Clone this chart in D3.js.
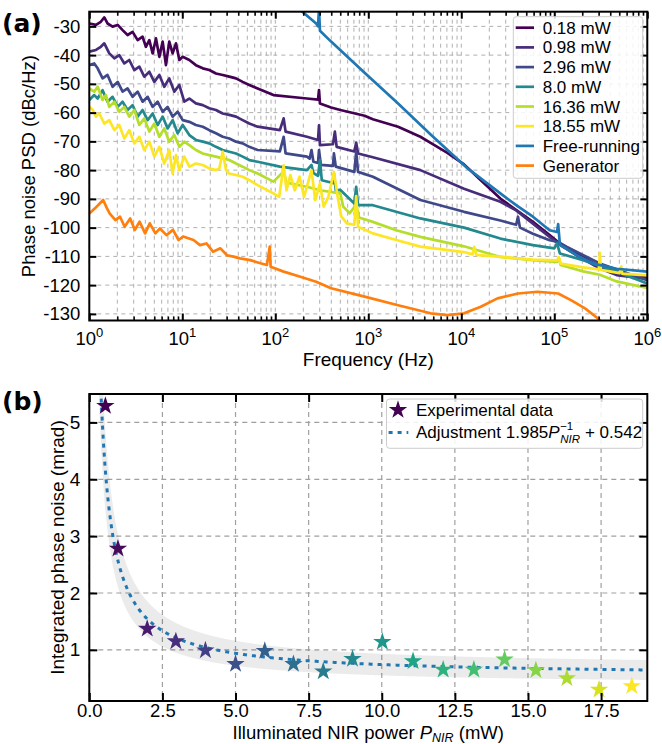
<!DOCTYPE html>
<html>
<head>
<meta charset="utf-8">
<style>
  body { margin: 0; background: #ffffff; }
  svg text { font-family: "Liberation Sans", Arial, sans-serif; fill: #000; }
  .panel-tag { font-family: "DejaVu Sans", sans-serif; font-weight: bold; }
</style>
</head>
<body>
<svg id="fig" width="662" height="744"></svg>
<script src="https://d3js.org/d3.v7.min.js"></script>
<script>
// ---------- panel (a): phase noise PSD, [frequency Hz, dBc/Hz] ----------
const psd018 = [[1.0,-29.0],[1.18,-29.5],[1.33,-28.4],[1.45,-26.9],[1.57,-29.0],[1.78,-30.1],[2.02,-29.5],[2.28,-31.3],[2.58,-33.0],[2.92,-31.9],[3.31,-34.8],[3.74,-33.6],[4.06,-37.1],[4.42,-34.8],[4.80,-39.4],[5.21,-34.2],[5.66,-40.6],[6.15,-35.3],[6.67,-43.5],[7.24,-35.3],[7.87,-39.4],[8.55,-35.9],[9.29,-41.7],[10.1,-40.6],[11.9,-41.7],[14.0,-43.5],[16.6,-44.6],[19.5,-45.2],[23.0,-46.4],[27.2,-46.9],[32.0,-47.5],[37.8,-48.1],[44.6,-49.3],[52.5,-50.4],[64.6,-51.6],[95.5,-53.9],[219,-55.1],[288,-55.5],[295,-52.2],[302,-56.8],[398,-58.2],[501,-59.1],[912,-61.1],[1120,-62.3],[2090,-64.9],[3630,-68.4],[4680,-70.5],[7080,-74.0],[10700,-78.0],[15800,-83.2],[26300,-89.9],[58900,-98.0],[89100,-102.6],[115000,-105.5],[174000,-109.0],[309000,-113.7],[468000,-116.0],[1e6,-117.3]];
const psd098 = [[1.0,-38.8],[1.18,-38.2],[1.33,-37.1],[1.45,-35.9],[1.64,-39.4],[1.86,-41.1],[2.10,-40.0],[2.38,-42.9],[2.69,-41.7],[3.05,-45.2],[3.45,-44.0],[3.90,-47.5],[4.42,-45.8],[5.00,-49.3],[5.66,-46.9],[6.40,-51.0],[7.24,-48.1],[8.20,-52.7],[9.29,-50.4],[10.5,-56.2],[11.9,-55.1],[14.0,-56.8],[16.6,-57.4],[19.5,-58.5],[23.0,-59.1],[27.2,-60.3],[32.0,-60.8],[37.8,-61.4],[44.6,-62.6],[52.5,-63.8],[64.6,-64.9],[112,-66.1],[123,-62.0],[129,-66.6],[219,-68.4],[288,-69.5],[295,-64.4],[302,-71.3],[417,-71.0],[437,-66.6],[457,-71.9],[708,-73.5],[741,-70.5],[776,-74.2],[1120,-75.5],[3630,-80.0],[10700,-86.5],[26300,-91.0],[38900,-94.0],[58900,-98.6],[89100,-103.2],[115000,-106.0],[174000,-109.6],[309000,-114.2],[468000,-116.5],[1e6,-117.8]];
const psd296 = [[1.0,-43.5],[1.13,-42.9],[1.23,-44.6],[1.39,-48.1],[1.57,-46.9],[1.78,-51.0],[2.02,-49.3],[2.28,-52.7],[2.58,-51.6],[2.92,-54.5],[3.31,-52.7],[3.74,-56.2],[4.24,-54.5],[4.80,-58.0],[5.43,-56.2],[6.15,-59.7],[6.95,-58.0],[7.87,-61.4],[8.91,-59.7],[10.1,-62.6],[11.9,-63.2],[14.0,-64.3],[16.6,-64.9],[19.5,-66.1],[23.0,-67.2],[27.2,-68.4],[32.0,-69.0],[37.8,-70.1],[44.6,-70.7],[52.5,-71.9],[64.6,-73.0],[112,-73.5],[123,-68.4],[129,-74.2],[219,-75.3],[234,-76.0],[245,-73.0],[257,-77.1],[288,-77.5],[295,-73.0],[309,-78.2],[417,-78.5],[427,-74.2],[447,-78.8],[708,-80.6],[741,-73.6],[776,-80.6],[1120,-82.3],[3630,-90.4],[10700,-94.5],[26300,-97.5],[38900,-99.0],[40700,-96.2],[42700,-100.0],[58900,-102.1],[89100,-104.4],[110000,-105.0],[135000,-106.6],[309000,-112.5],[1e6,-118.3]];
const psd800 = [[1.0,-55.6],[1.13,-53.9],[1.23,-55.1],[1.39,-52.2],[1.57,-56.2],[1.78,-54.5],[2.02,-58.0],[2.28,-56.2],[2.58,-59.1],[2.92,-57.4],[3.31,-61.4],[3.74,-59.1],[4.24,-62.6],[4.80,-60.3],[5.43,-64.3],[6.15,-61.4],[6.95,-65.5],[7.87,-62.6],[8.91,-67.2],[10.1,-64.3],[11.9,-67.8],[14.0,-69.5],[16.6,-70.1],[19.5,-70.7],[23.0,-71.9],[27.2,-73.0],[32.0,-73.6],[37.8,-74.2],[44.6,-75.3],[52.5,-76.5],[64.6,-77.1],[112,-78.8],[219,-80.0],[245,-78.2],[257,-81.0],[288,-82.0],[302,-76.5],[316,-83.5],[417,-84.5],[427,-81.2],[447,-87.0],[501,-86.9],[708,-91.6],[741,-85.8],[776,-92.2],[1120,-92.2],[3630,-96.8],[10700,-100.0],[26300,-103.8],[58900,-106.1],[100000,-107.2],[107000,-105.5],[115000,-109.0],[204000,-111.3],[468000,-115.3],[1e6,-119.4]];
const psd1636 = [[1.0,-51.6],[1.13,-52.7],[1.23,-51.0],[1.39,-55.6],[1.51,-53.9],[1.64,-58.0],[1.86,-56.2],[2.10,-59.7],[2.38,-58.0],[2.69,-61.4],[3.05,-59.1],[3.45,-64.3],[3.90,-62.0],[4.42,-66.6],[5.00,-63.8],[5.66,-68.4],[6.40,-65.5],[7.24,-70.1],[8.20,-67.8],[9.29,-71.9],[10.5,-70.1],[11.9,-71.3],[14.0,-73.0],[16.6,-74.2],[19.5,-74.8],[23.0,-75.3],[27.2,-75.9],[32.0,-76.5],[37.8,-77.7],[44.6,-78.8],[52.5,-80.0],[64.6,-81.2],[95.5,-84.0],[123,-80.5],[132,-84.3],[145,-84.6],[219,-85.8],[302,-87.0],[501,-88.1],[537,-92.7],[631,-95.0],[741,-92.0],[794,-96.5],[1120,-98.0],[2000,-100.9],[3630,-103.2],[10700,-106.5],[26300,-110.2],[58900,-111.3],[107000,-111.9],[112000,-110.5],[117000,-113.0],[204000,-115.2],[309000,-116.4],[468000,-118.7],[1e6,-121.0]];
const psd1855 = [[1.0,-58.0],[1.09,-59.1],[1.18,-61.4],[1.28,-60.3],[1.45,-63.8],[1.64,-62.6],[1.86,-66.1],[2.10,-64.3],[2.38,-69.0],[2.69,-66.1],[3.05,-70.7],[3.45,-68.4],[3.90,-73.0],[4.42,-70.1],[5.00,-75.3],[5.66,-71.9],[6.40,-77.7],[7.24,-73.0],[7.87,-81.2],[8.55,-74.8],[9.29,-80.0],[10.5,-75.3],[11.9,-78.8],[14.0,-77.7],[16.6,-78.2],[19.5,-79.4],[23.0,-80.0],[25.0,-79.4],[27.2,-73.6],[29.5,-80.0],[32.0,-81.2],[37.8,-81.7],[44.6,-82.3],[52.5,-83.5],[64.6,-85.2],[95.5,-88.1],[110,-89.3],[123,-78.3],[132,-87.0],[145,-81.7],[162,-87.0],[182,-82.3],[204,-89.3],[245,-80.0],[269,-90.4],[302,-84.6],[331,-92.7],[372,-89.3],[427,-80.6],[468,-89.3],[513,-96.2],[589,-98.5],[708,-99.0],[741,-89.0],[776,-99.7],[1120,-102.0],[2000,-104.3],[3630,-106.6],[10700,-108.5],[13200,-109.3],[13800,-106.7],[14500,-109.5],[26300,-110.2],[58900,-111.1],[107000,-111.4],[112000,-110.3],[117000,-112.5],[204000,-113.8],[302000,-114.5],[309000,-108.8],[316000,-114.7],[501000,-115.8],[525000,-113.5],[537000,-116.0],[1e6,-116.6]];
const psdFree = [[141,-21.0],[275,-29.0],[288,-30.0],[295,-24.0],[302,-31.5],[398,-35.3],[912,-46.1],[2090,-56.8],[4680,-67.6],[11700,-79.4],[26300,-88.1],[38900,-92.2],[58900,-96.2],[89100,-100.9],[107000,-101.5],[110000,-98.8],[115000,-106.0],[174000,-109.6],[263000,-112.5],[468000,-114.3],[1e6,-115.3]];
const psdGen = [[1.0,-95.1],[1.15,-93.3],[1.41,-90.4],[1.55,-93.3],[1.66,-95.1],[1.91,-97.4],[2.14,-96.2],[2.40,-99.7],[2.75,-96.8],[3.09,-100.8],[3.47,-97.9],[3.98,-102.0],[4.47,-98.5],[5.13,-102.0],[5.75,-100.3],[6.76,-102.6],[7.94,-100.8],[9.12,-104.3],[10.2,-103.1],[13.2,-104.3],[15.5,-106.1],[18.2,-105.5],[21.4,-108.4],[25.7,-107.2],[30.2,-109.6],[35.5,-110.1],[41.7,-110.7],[53.7,-111.3],[69.2,-112.4],[81.3,-113.0],[87.1,-106.6],[89.1,-113.6],[123,-115.3],[186,-117.1],[275,-118.8],[398,-121.1],[912,-124.0],[2090,-127.0],[4680,-129.8],[7080,-130.4],[10700,-129.8],[16200,-127.5],[24500,-124.6],[40700,-122.9],[66100,-122.3],[110000,-122.9],[151000,-125.2],[214000,-128.1],[295000,-131.6],[339000,-133.5]];

const psdLabels = ["0.18 mW", "0.98 mW", "2.96 mW", "8.0 mW", "16.36 mW", "18.55 mW", "Free-running", "Generator"];
const psdTicks = [-30, -40, -50, -60, -70, -80, -90, -100, -110, -120, -130];
const freqDecades = [0, 1, 2, 3, 4, 5, 6];

// ---------- panel (b): integrated phase noise ----------
const powerNIR = [0.55, 0.98, 1.98, 2.96, 3.97, 5.0, 6.0, 6.98, 8.0, 9.0, 10.02, 11.07, 12.1, 13.15, 14.2, 15.27, 16.33, 17.43, 18.55];
const phaseNoise = [5.29, 2.78, 1.37, 1.15, 0.99, 0.75, 0.98, 0.75, 0.62, 0.84, 1.14, 0.80, 0.65, 0.65, 0.83, 0.64, 0.50, 0.30, 0.36];
const fitA = 1.985, fitB = 0.542;       // adjustment a / P + b
const bandA = 0.3, bandB = 0.16;        // shaded uncertainty of the adjustment
const powerTicks = [0, 2.5, 5, 7.5, 10, 12.5, 15, 17.5];
const noiseTicks = [1, 2, 3, 4, 5];

// ---------- styles ----------
const psdSeries = [psd018, psd098, psd296, psd800, psd1636, psd1855, psdFree, psdGen];
const psdColors = ["#440154", "#472c7a", "#3f4889", "#23898e", "#b5de2b", "#fde725", "#1f77b4", "#ff7f0e"];

const svg = d3.select("#fig");
svg.append("rect").attr("width", 662).attr("height", 744).attr("fill", "#fff");

function tidy(g) { g.select(".domain").remove(); g.selectAll(".tick line").attr("stroke", "#000"); }
function tickFont(g, size) { g.selectAll("text").style("font-size", size).style("font-family", "Liberation Sans, Arial, sans-serif"); }

// =============== panel (a) ===============
const A = {l: 89.3, r: 647.3, t: 11.7, b: 320.5};
const xF = d3.scaleLog().domain([1, 1e6]).range([A.l, A.r]);
const yP = d3.scaleLinear().domain([-132.3, -24.9]).range([A.b, A.t]);

const gA = svg.append("g");
svg.append("clipPath").attr("id", "clipA").append("rect")
  .attr("x", A.l).attr("y", A.t).attr("width", A.r - A.l).attr("height", A.b - A.t);

const majorF = freqDecades.map(d => Math.pow(10, d));
const minorF = xF.ticks().filter(f => !majorF.includes(f));

// grid
gA.append("g").selectAll("line").data(xF.ticks()).join("line")
  .attr("x1", d => xF(d)).attr("x2", d => xF(d)).attr("y1", A.t).attr("y2", A.b)
  .attr("stroke", "#b0b0b0").attr("stroke-width", 1).attr("stroke-dasharray", "4,4");
gA.append("g").selectAll("line").data(psdTicks).join("line")
  .attr("y1", d => yP(d)).attr("y2", d => yP(d)).attr("x1", A.l).attr("x2", A.r)
  .attr("stroke", "#b0b0b0").attr("stroke-width", 1).attr("stroke-dasharray", "4,4");

// curves
const lineA = d3.line().x(d => xF(d[0])).y(d => yP(d[1]));
gA.append("g").attr("clip-path", "url(#clipA)")
  .selectAll("path").data(psdSeries).join("path")
  .attr("d", lineA).attr("fill", "none")
  .attr("stroke", (d, i) => psdColors[i]).attr("stroke-width", 2.7)
  .attr("stroke-linejoin", "round");

// axes (ticks inward)
gA.append("g").attr("transform", `translate(0,${A.b})`)
  .call(d3.axisBottom(xF).tickValues(majorF).tickSize(-7).tickFormat("")).call(tidy)
  .selectAll(".tick line").attr("stroke-width", 2);
gA.append("g").attr("transform", `translate(0,${A.b})`)
  .call(d3.axisBottom(xF).tickValues(minorF).tickSize(-4).tickFormat("")).call(tidy)
  .selectAll(".tick line").attr("stroke-width", 1.5);
gA.append("g").attr("transform", `translate(0,${A.t})`)
  .call(d3.axisTop(xF).tickValues(majorF).tickSize(-7).tickFormat("")).call(tidy)
  .selectAll(".tick line").attr("stroke-width", 2);
gA.append("g").attr("transform", `translate(0,${A.t})`)
  .call(d3.axisTop(xF).tickValues(minorF).tickSize(-4).tickFormat("")).call(tidy)
  .selectAll(".tick line").attr("stroke-width", 1.5);
gA.append("g").attr("transform", `translate(${A.l},0)`)
  .call(d3.axisLeft(yP).tickValues(psdTicks).tickSize(-7).tickPadding(9).tickFormat(d => String(d)))
  .call(tidy)
  .call(g => g.selectAll(".tick line").attr("stroke-width", 2))
  .call(g => tickFont(g, "18.5px"));
gA.append("g").attr("transform", `translate(${A.r},0)`)
  .call(d3.axisRight(yP).tickValues(psdTicks).tickSize(-7).tickFormat("")).call(tidy)
  .selectAll(".tick line").attr("stroke-width", 2);

gA.append("rect").attr("x", A.l).attr("y", A.t).attr("width", A.r - A.l).attr("height", A.b - A.t)
  .attr("fill", "none").attr("stroke", "#000").attr("stroke-width", 2);

// x tick labels 10^n
gA.append("g").selectAll("text").data(freqDecades).join("text")
  .attr("x", d => xF(Math.pow(10, d))).attr("y", 345).attr("text-anchor", "middle")
  .style("font-size", "18.5px")
  .each(function(d) {
    const t = d3.select(this);
    t.append("tspan").text("10");
    t.append("tspan").attr("dy", -8).style("font-size", "13px").text(d);
  });

gA.append("text").attr("x", (A.l + A.r) / 2).attr("y", 366).attr("text-anchor", "middle")
  .style("font-size", "19px").text("Frequency (Hz)");
gA.append("text").attr("transform", `translate(34.5,${(A.t + A.b) / 2}) rotate(-90)`)
  .attr("text-anchor", "middle").style("font-size", "18.5px").text("Phase noise PSD (dBc/Hz)");
svg.append("text").attr("class", "panel-tag").attr("x", 2).attr("y", 32)
  .style("font-size", "25px").text("(a)");

// legend (a)
const legA = gA.append("g");
legA.append("rect").attr("x", 513.3).attr("y", 16.7).attr("width", 129.4).attr("height", 161.6)
  .attr("rx", 3).attr("fill", "#fff").attr("fill-opacity", 0.85).attr("stroke", "#cccccc");
psdLabels.forEach((lab, i) => {
  const y = 27.7 + i * 19.7;
  legA.append("line").attr("x1", 515.7).attr("x2", 534).attr("y1", y).attr("y2", y)
    .attr("stroke", psdColors[i]).attr("stroke-width", 2.7);
  legA.append("text").attr("x", 542.7).attr("y", y + 6).style("font-size", "17px").text(lab);
});

// =============== panel (b) ===============
const B = {l: 89.3, r: 647.3, t: 394, b: 701};
const xB = d3.scaleLinear().domain([0, 19.08]).range([B.l, B.r]);
const yB = d3.scaleLinear().domain([0.1, 5.5]).range([B.b, B.t]);
const gB = svg.append("g");
svg.append("clipPath").attr("id", "clipB").append("rect")
  .attr("x", B.l).attr("y", B.t).attr("width", B.r - B.l).attr("height", B.b - B.t);

gB.append("g").selectAll("line").data(powerTicks).join("line")
  .attr("x1", d => xB(d)).attr("x2", d => xB(d)).attr("y1", B.t).attr("y2", B.b)
  .attr("stroke", "#a0a0a0").attr("stroke-width", 1.2).attr("stroke-dasharray", "5,4");
gB.append("g").selectAll("line").data(noiseTicks).join("line")
  .attr("y1", d => yB(d)).attr("y2", d => yB(d)).attr("x1", B.l).attr("x2", B.r)
  .attr("stroke", "#a0a0a0").attr("stroke-width", 1.2).attr("stroke-dasharray", "5,4");

// adjustment model and its band
const pGrid = d3.range(0.3, 19.1, 0.02);
const fit = p => fitA / p + fitB;
const band = p => bandA / p + bandB;
const plotB = gB.append("g").attr("clip-path", "url(#clipB)");
plotB.append("path").datum(pGrid)
  .attr("d", d3.area().x(p => xB(p)).y0(p => yB(fit(p) - band(p))).y1(p => yB(fit(p) + band(p))))
  .attr("fill", "#000").attr("fill-opacity", 0.08);
plotB.append("path").datum(pGrid)
  .attr("d", d3.line().x(p => xB(p)).y(p => yB(fit(p))))
  .attr("fill", "none").attr("stroke", "#1f77b4").attr("stroke-width", 3).attr("stroke-dasharray", "4,5");

// stars
const starColor = d3.scaleSequential(d3.interpolateViridis).domain(d3.extent(powerNIR));
const star = d3.symbol().type(d3.symbolStar).size(105);
plotB.selectAll(".star").data(powerNIR).join("path")
  .attr("class", "star")
  .attr("transform", (p, i) => `translate(${xB(p)},${yB(phaseNoise[i])})`)
  .attr("d", star).attr("fill", p => starColor(p));

// axes
gB.append("g").attr("transform", `translate(0,${B.b})`)
  .call(d3.axisBottom(xB).tickValues(powerTicks).tickSize(-8).tickPadding(3).tickFormat(d3.format(".1f")))
  .call(tidy)
  .call(g => g.selectAll(".tick line").attr("stroke-width", 2))
  .call(g => tickFont(g, "18.5px"));
gB.append("g").attr("transform", `translate(0,${B.t})`)
  .call(d3.axisTop(xB).tickValues(powerTicks).tickSize(-8).tickFormat("")).call(tidy)
  .selectAll(".tick line").attr("stroke-width", 2);
gB.append("g").attr("transform", `translate(${B.l},0)`)
  .call(d3.axisLeft(yB).tickValues(noiseTicks).tickSize(-8).tickPadding(9).tickFormat(d => String(d)))
  .call(tidy)
  .call(g => g.selectAll(".tick line").attr("stroke-width", 2))
  .call(g => tickFont(g, "19px"));
gB.append("g").attr("transform", `translate(${B.r},0)`)
  .call(d3.axisRight(yB).tickValues(noiseTicks).tickSize(-8).tickFormat("")).call(tidy)
  .selectAll(".tick line").attr("stroke-width", 2);
gB.append("rect").attr("x", B.l).attr("y", B.t).attr("width", B.r - B.l).attr("height", B.b - B.t)
  .attr("fill", "none").attr("stroke", "#000").attr("stroke-width", 2);

// labels
const xlabB = gB.append("text").attr("x", (B.l + B.r) / 2).attr("y", 738.5).attr("text-anchor", "middle")
  .style("font-size", "18.5px");
xlabB.append("tspan").text("Illuminated NIR power ");
xlabB.append("tspan").style("font-style", "italic").text("P");
xlabB.append("tspan").attr("dy", 3).style("font-size", "12.5px").style("font-style", "italic").text("NIR");
xlabB.append("tspan").attr("dy", -3).text(" (mW)");
gB.append("text").attr("transform", `translate(63.5,${(B.t + B.b) / 2}) rotate(-90)`)
  .attr("text-anchor", "middle").style("font-size", "19px").text("Integrated phase noise (mrad)");
svg.append("text").attr("class", "panel-tag").attr("x", 2).attr("y", 410)
  .style("font-size", "25px").text("(b)");

// legend (b)
const legB = gB.append("g");
legB.append("rect").attr("x", 386.5).attr("y", 399).attr("width", 256.2).attr("height", 49.3)
  .attr("rx", 3).attr("fill", "#fff").attr("fill-opacity", 0.85).attr("stroke", "#cccccc");
legB.append("path").attr("transform", "translate(398,410)").attr("d", star).attr("fill", starColor(powerNIR[0]));
legB.append("text").attr("x", 416).attr("y", 416).style("font-size", "17px").text("Experimental data");
legB.append("line").attr("x1", 388.6).attr("x2", 408.3).attr("y1", 432.5).attr("y2", 432.5)
  .attr("stroke", "#1f77b4").attr("stroke-width", 3).attr("stroke-dasharray", "4,5");
const adj = legB.append("text").attr("x", 416).attr("y", 438).style("font-size", "17px");
adj.append("tspan").text("Adjustment " + fitA);
adj.append("tspan").style("font-style", "italic").text("P");
const xp = 416 + adj.node().getComputedTextLength() + 0.5;
legB.append("text").attr("x", xp).attr("y", 430).style("font-size", "11.5px").text("\u22121");
const nir = legB.append("text").attr("x", xp).attr("y", 443).style("font-size", "11.5px")
  .style("font-style", "italic").text("NIR");
const xAfter = xp + nir.node().getComputedTextLength() + 5;
legB.append("text").attr("x", xAfter).attr("y", 438).style("font-size", "17px").text("+ " + fitB);
</script>
</body>
</html>
